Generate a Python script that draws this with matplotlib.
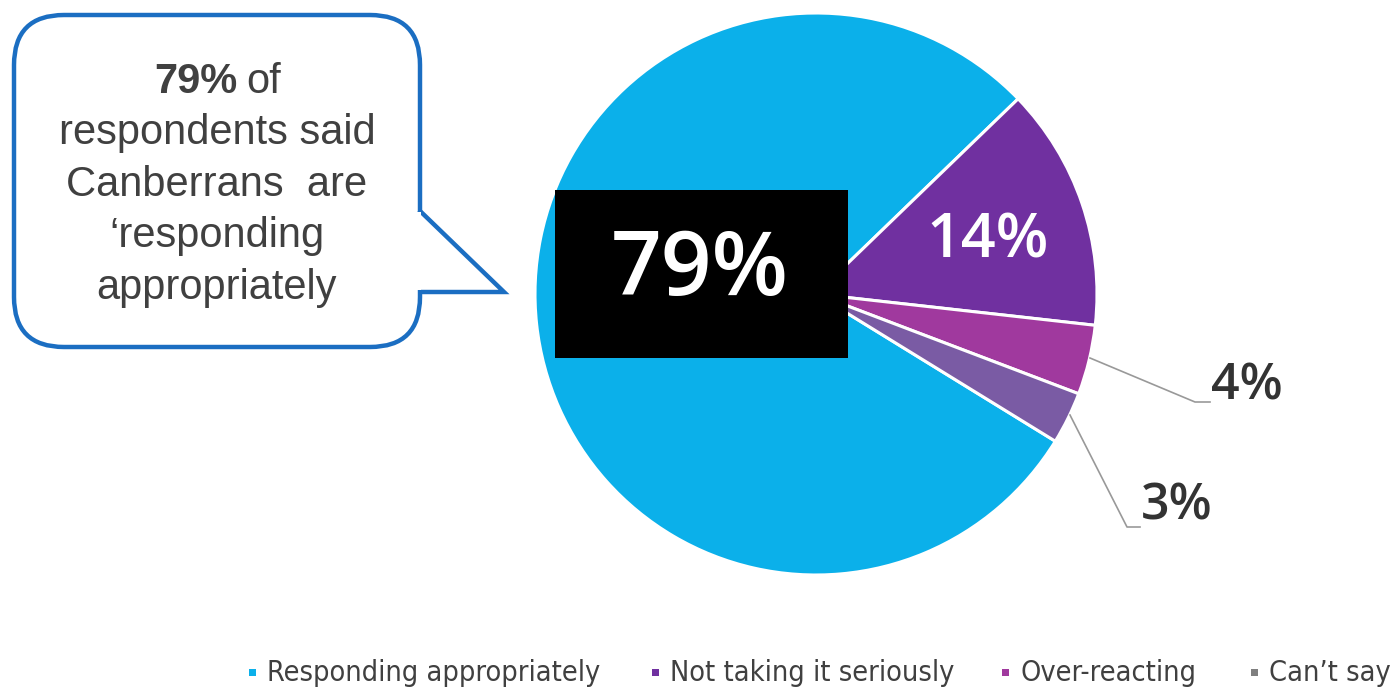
import matplotlib.pyplot as plt
from matplotlib.patches import FancyBboxPatch, Rectangle, Polygon

categories = ["Responding appropriately", "Not taking it seriously", "Over-reacting", "Can\u2019t say"]
values = [79, 14, 4, 3]
colors = ["#0BB0EA", "#7030A0", "#A0399E", "#7A5BA4"]
legend_colors = ["#0BB0EA", "#7030A0", "#A0399E", "#7F7F7F"]
pct_labels = ["79%", "14%", "4%", "3%"]

W, H = 1395, 689
fig = plt.figure(figsize=(W / 100, H / 100), dpi=100)
ax = fig.add_axes([0, 0, 1, 1])

def Y(py):
    return H - py

# pie
cx, cy, r = 816, Y(294), 281
ax.pie(values, colors=colors, startangle=-31.6, counterclock=False,
       center=(cx, cy), radius=r, frame=True,
       wedgeprops=dict(edgecolor="white", linewidth=2.2))
ax.set_xlim(0, W)
ax.set_ylim(0, H)
ax.set_aspect("equal")
ax.axis("off")

lab_kw = dict(family="Open Sans", weight="semibold", va="center")

# black box with main figure
ax.add_patch(Rectangle((555, Y(358)), 293, 168, facecolor="black", zorder=3))
ax.text(700, Y(272), pct_labels[0], color="white", fontsize=64, ha="center", zorder=4, **lab_kw)
ax.text(988, Y(241), pct_labels[1], color="white", fontsize=44, ha="center", zorder=4, **lab_kw)

# leader lines
ax.plot([1090, 1195, 1210], [Y(358), Y(402), Y(402)], color="#999999", lw=1.2, zorder=2)
ax.plot([1070, 1127, 1140], [Y(415), Y(527), Y(527)], color="#999999", lw=1.2, zorder=2)
ax.text(1211, Y(387), pct_labels[2], color="#333333", fontsize=36, ha="left", **lab_kw)
ax.text(1141, Y(507), pct_labels[3], color="#333333", fontsize=36, ha="left", **lab_kw)

# speech bubble
bubble = FancyBboxPatch((14, Y(347)), 406, 332,
                        boxstyle="round,pad=0,rounding_size=50",
                        facecolor="white", edgecolor="#1B6EC2", linewidth=3.2, zorder=5)
ax.add_patch(bubble)
tail = Polygon([(419, Y(210)), (504, Y(292)), (419, Y(292))], closed=False,
               facecolor="white", edgecolor="#1B6EC2", linewidth=3.2, zorder=6,
               joinstyle="miter")
ax.add_patch(tail)
ax.add_patch(Rectangle((415, Y(290)), 6, 78, facecolor="white", edgecolor="none", zorder=7))

txt_kw = dict(color="#404040", fontsize=30, family="Liberation Sans", va="center", zorder=8)
ax.text(238, Y(82), "79%", ha="right", weight="bold", **txt_kw)
ax.text(246, Y(82), "of", ha="left", **txt_kw)
bubble_lines = ["respondents said", "Canberrans  are", "\u2018responding", "appropriately"]
for i, line in enumerate(bubble_lines):
    ax.text(217, Y(133 + 51.5 * i), line, ha="center", **txt_kw)

# legend
leg_x = [253, 656, 1006, 1255]
for x, c, lab in zip(leg_x, legend_colors, categories):
    ax.add_patch(Rectangle((x - 4, Y(676)), 7, 7, facecolor=c, edgecolor="none"))
    ax.text(x + 14, Y(673), lab, color="#404040", fontsize=20.7,
            family="DejaVu Sans", stretch="condensed", ha="left", va="center")

fig.savefig("out.png", dpi=100)
